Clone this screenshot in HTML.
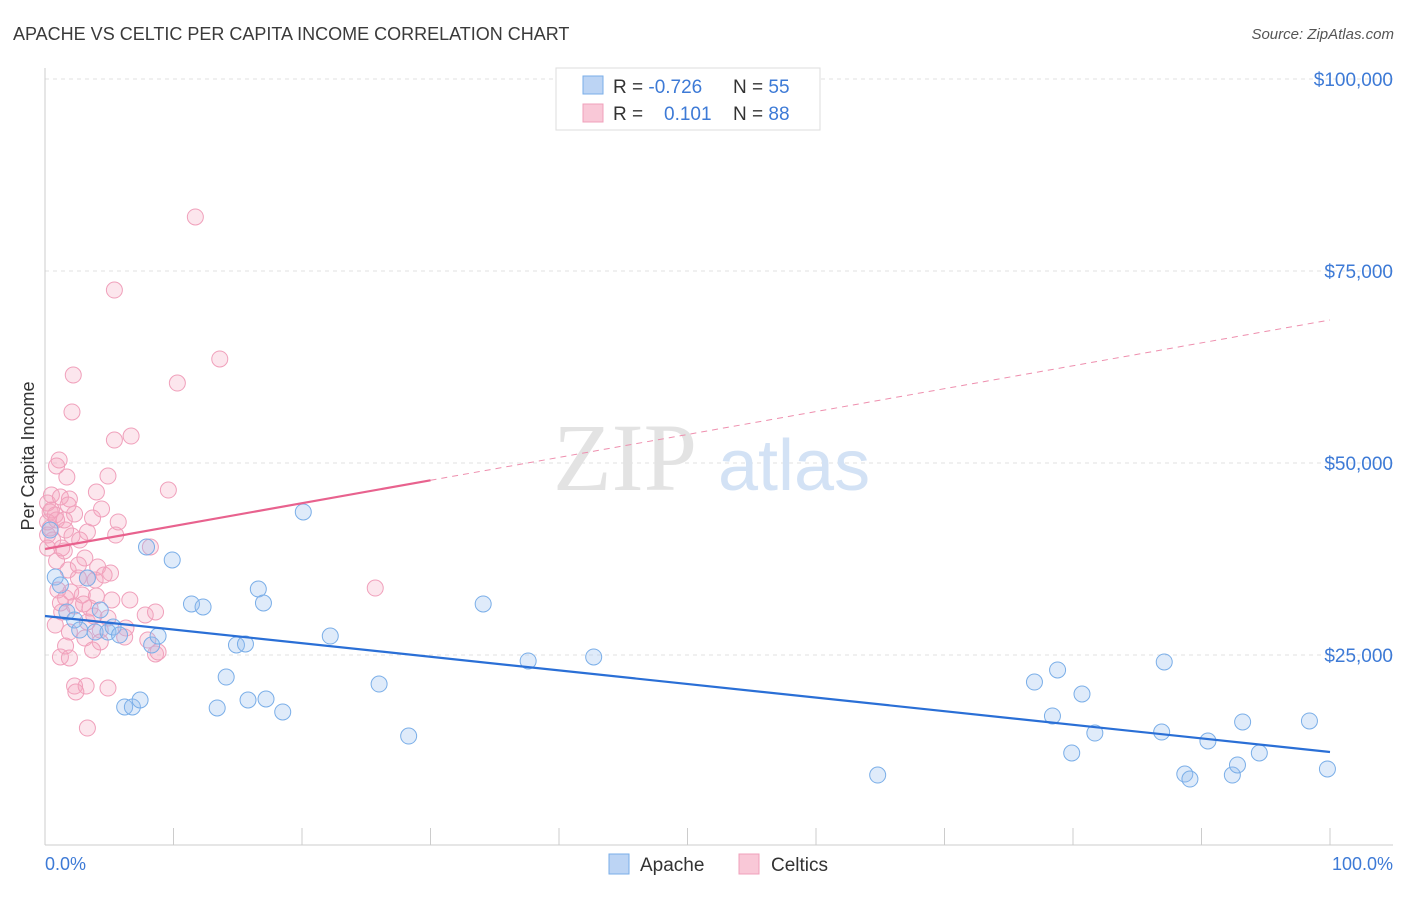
<!DOCTYPE html>
<html><head><meta charset="utf-8"><style>
html,body{margin:0;padding:0;background:#fff;}
body{width:1406px;height:892px;overflow:hidden;font-family:"Liberation Sans",sans-serif;}
</style></head><body>
<svg width="1406" height="892" xmlns="http://www.w3.org/2000/svg">
<text x="13" y="40" font-size="18" fill="#3a3a3a">APACHE VS CELTIC PER CAPITA INCOME CORRELATION CHART</text>
<text x="1394" y="39" font-size="15" fill="#555" font-style="italic" text-anchor="end">Source: ZipAtlas.com</text>
<g id="grid"></g>
<g>
<text x="553" y="490" font-size="96" font-family="Liberation Serif" fill="#e3e3e3">ZIP</text>
<text x="718" y="490" font-size="72" fill="#d3e2f5">atlas</text>
</g>
<line x1="45" y1="68" x2="45" y2="845" stroke="#ccc"/>
<line x1="45" y1="845" x2="1393" y2="845" stroke="#ccc"/>
<g id="ticks"></g>
<g id="pts"></g>
<g id="trends"></g>
<text transform="translate(34,456) rotate(-90)" font-size="18" fill="#333" text-anchor="middle">Per Capita Income</text>
<text x="45" y="870" font-size="18" fill="#3d7ad6">0.0%</text>
<text x="1393" y="870" font-size="18" fill="#3d7ad6" text-anchor="end">100.0%</text>
<g>
<rect x="556" y="68" width="264" height="62" fill="#fff" stroke="#ddd"/>
<rect x="583" y="76" width="20" height="18" fill="#bcd4f4" stroke="#7aaee8"/>
<rect x="583" y="104" width="20" height="18" fill="#f9c8d7" stroke="#f0a0bb"/>
<text x="613" y="93" font-size="19" fill="#333">R = <tspan fill="#3d7ad6">-0.726</tspan><tspan x="733">N = </tspan><tspan fill="#3d7ad6">55</tspan></text>
<text x="613" y="120" font-size="19" fill="#333">R = <tspan x="664" fill="#3d7ad6">0.101</tspan><tspan x="733">N = </tspan><tspan fill="#3d7ad6">88</tspan></text>
</g>
<g>
<rect x="609" y="854" width="20" height="20" fill="#bcd4f4" stroke="#7aaee8"/>
<text x="640" y="871" font-size="19" fill="#333">Apache</text>
<rect x="739" y="854" width="20" height="20" fill="#f9c8d7" stroke="#f0a0bb"/>
<text x="771" y="871" font-size="19" fill="#333">Celtics</text>
</g>
</svg>
<script>
const yTicks=[25000,50000,75000,100000];
const yTickLabels=["$25,000","$50,000","$75,000","$100,000"];
const apacheX=[0.8,1.2,1.7,2.3,2.7,3.3,3.9,4.3,4.9,5.3,5.8,6.2,6.8,7.4,7.9,8.3,8.8,9.9,11.4,12.3,13.4,14.1,14.9,15.6,15.8,16.6,17.0,17.2,18.5,20.1,22.2,26.0,28.3,34.1,37.6,42.7,64.8,77.0,78.4,78.8,79.9,80.7,81.7,86.9,87.1,88.7,89.1,90.5,92.4,92.8,93.2,94.5,98.4,99.8,0.4];
const apacheY=[35150,34110,30600,29560,28250,35020,27990,30860,27990,28640,27600,18230,18230,19140,39060,26300,27470,37370,31640,31250,18100,22130,26300,26430,19140,33590,31770,19270,17580,43620,27470,21220,14450,31640,24220,24740,9370,21480,17060,23050,12240,19920,14840,14970,24090,9500,8850,13800,9370,10680,16280,12240,16410,10160,41270];
const celticsX=[11.7,5.4,13.6,10.3,2.2,2.1,6.7,5.4,1.1,0.9,4.9,1.7,9.6,4.0,1.9,0.2,0.4,0.5,0.8,2.3,4.4,5.7,0.2,3.3,2.1,0.6,8.2,1.5,3.1,0.9,4.1,5.1,1.8,2.6,3.3,1.0,1.6,2.9,4.0,2.3,1.3,3.5,4.9,0.8,1.9,4.3,6.2,3.1,8.0,1.6,8.6,8.8,1.2,1.9,4.3,7.8,8.6,25.7,2.3,3.2,2.4,4.9,3.3,1.3,2.7,0.2,0.5,1.2,1.8,3.7,0.4,2.6,3.9,4.6,5.2,6.3,3.7,5.5,0.9,1.6,0.2,2.0,3.0,3.8,1.2,3.3,6.6,1.5];
const celticsY=[82030,72520,63540,60410,61450,56640,53510,52990,50390,49610,48300,48170,46480,46220,45310,44790,43620,43880,43230,43360,44010,42320,42320,41010,40490,39970,39060,38540,37630,37240,36460,35670,36070,35020,35020,33460,32420,32810,32680,31380,30600,31120,29820,28900,27990,28250,27340,27210,26950,26170,25130,25390,24740,24610,26690,30210,30600,33720,20960,20960,20180,20700,15490,38930,39970,40620,45830,45570,44530,42840,41530,36720,34760,35410,32160,28510,25650,40620,42580,41270,38930,33200,31640,30080,31770,29300,32160,42580];
const apacheTrend=[30080,12370];
const celticsTrend=[38800,68620];
const celticsSolidEnd=30;
const NS="http://www.w3.org/2000/svg";
const xs=v=>45+v*12.85, ys=v=>847-v/130.2;
function mk(t,a,p){const e=document.createElementNS(NS,t);for(const k in a)e.setAttribute(k,a[k]);p.appendChild(e);return e;}
const grid=document.getElementById('grid');
yTicks.forEach((t,i)=>{
 const l=mk('line',{x1:45,x2:1393,y1:ys(t),y2:ys(t),stroke:'#e2e2e2','stroke-dasharray':'4,4'},grid);
 
 
 const tx=mk('text',{x:1393,y:ys(t)+7,'font-size':19,fill:'#3d7ad6','text-anchor':'end'},grid);
 tx.textContent=yTickLabels[i];
 
 
});
const tk=document.getElementById('ticks');
for(let i=0;i<=10;i++){const l=mk('line',{x1:xs(i*10),x2:xs(i*10),y1:828,y2:845,stroke:'#ccc'},tk);
 
 }
const pts=document.getElementById('pts');
celticsX.forEach((x,i)=>{const c=mk('circle',{cx:xs(x),cy:ys(celticsY[i]),r:8,fill:'rgba(245,165,190,0.28)',stroke:'#f0a0bb','stroke-width':1},pts);
 
 });
apacheX.forEach((x,i)=>{const c=mk('circle',{cx:xs(x),cy:ys(apacheY[i]),r:8,fill:'rgba(150,190,240,0.3)',stroke:'#7aaee8','stroke-width':1},pts);
 
 });
const tr=document.getElementById('trends');
const a=mk('line',{x1:xs(0),y1:ys(apacheTrend[0]),x2:xs(100),y2:ys(apacheTrend[1]),stroke:'#2a6fd6','stroke-width':2.2},tr);


const cy=x=>celticsTrend[0]+(celticsTrend[1]-celticsTrend[0])*x/100;
const d=mk('line',{x1:xs(celticsSolidEnd),y1:ys(cy(celticsSolidEnd)),x2:xs(100),y2:ys(celticsTrend[1]),stroke:'#ee8fae','stroke-width':1,'stroke-dasharray':'6,5'},tr);


const s=mk('line',{x1:xs(0),y1:ys(celticsTrend[0]),x2:xs(celticsSolidEnd),y2:ys(cy(celticsSolidEnd)),stroke:'#e8628e','stroke-width':2.2},tr);


</script>
</body></html>
